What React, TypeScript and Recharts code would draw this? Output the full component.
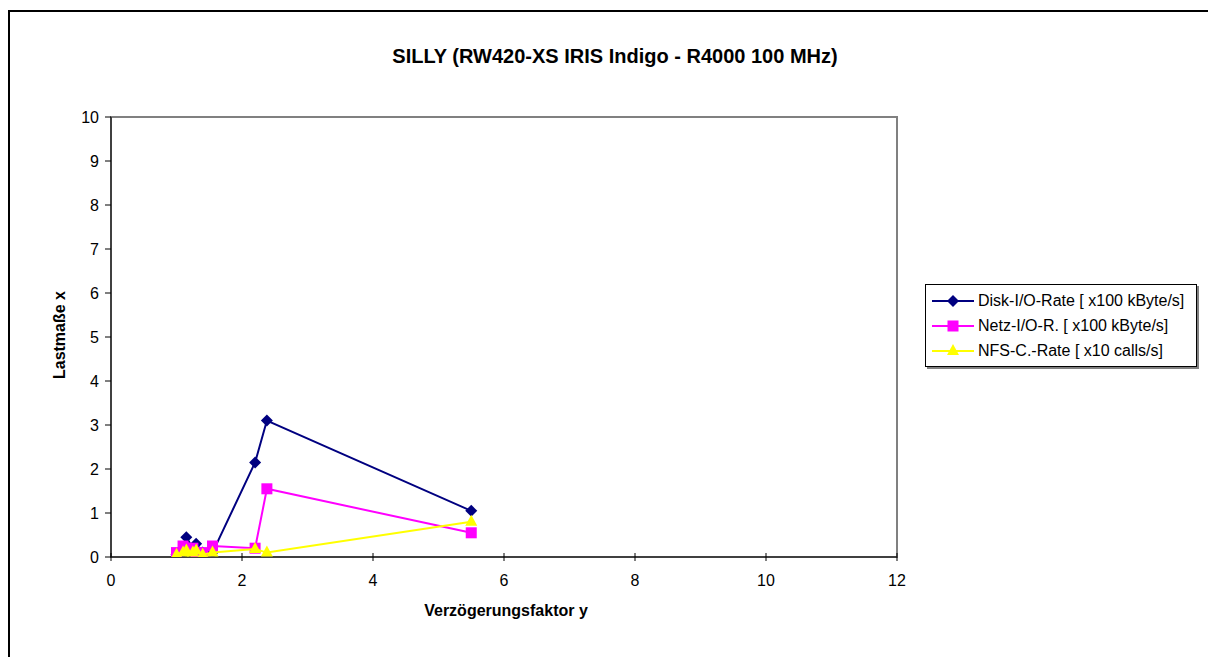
// XY scatter with joined markers: load measures vs. delay factor on SILLY.

import {
    ScatterChart, Scatter, XAxis, YAxis, ZAxis, ReferenceArea,
} from "recharts";

const delayFactor = [1.0, 1.1, 1.15, 1.25, 1.3, 1.4, 1.55, 2.2, 2.38, 5.5];
const diskRate = [0.05, 0.1, 0.45, 0.2, 0.3, 0.1, 0.1, 2.15, 3.1, 1.05];
const netRate = [0.1, 0.25, 0.2, 0.2, 0.1, 0.1, 0.25, 0.2, 1.55, 0.55];
const nfsRate = [0.05, 0.1, 0.15, 0.1, 0.15, 0.05, 0.1, 0.18, 0.1, 0.8];

const xTicks = [0, 2, 4, 6, 8, 10, 12];
const yTicks = [0, 1, 2, 3, 4, 5, 6, 7, 8, 9, 10];

const NAVY = "#000080";
const MAGENTA = "#FF00FF";
const YELLOW = "#FFFF00";
const FONT = "'Liberation Sans', Arial, sans-serif";

const toPoints = (ys: number[]) => delayFactor.map((x, i) => ({ x, y: ys[i] }));

const series = [
    { name: "Disk-I/O-Rate [ x100 kByte/s]", color: NAVY, shape: "diamond", data: toPoints(diskRate) },
    { name: "Netz-I/O-R. [ x100 kByte/s]", color: MAGENTA, shape: "square", data: toPoints(netRate) },
    { name: "NFS-C.-Rate [ x10 calls/s]", color: YELLOW, shape: "triangle", data: toPoints(nfsRate) },
];

function Marker({ cx, cy, kind, color }: { cx: number; cy: number; kind: string; color: string }) {
    if (kind === "diamond") {
        return <path d={`M${cx},${cy - 6}L${cx + 6},${cy}L${cx},${cy + 6}L${cx - 6},${cy}Z`} fill={color} />;
    }
    if (kind === "square") {
        return <rect x={cx - 5.5} y={cy - 5.5} width={11} height={11} fill={color} />;
    }
    return <path d={`M${cx},${cy - 7}L${cx + 6},${cy + 4}L${cx - 6},${cy + 4}Z`} fill={color} />;
}

// Excel-style tick that crosses the x axis, with the label below it
function XTick({ x, y, payload }: any) {
    return (
        <g>
            <line x1={x} y1={y - 12} x2={x} y2={y - 4} stroke="#000" />
            <text x={x} y={y + 21} textAnchor="middle" fontSize={16} fontFamily={FONT} fill="#000">
                {payload.value}
            </text>
        </g>
    );
}

function LegendBox() {
    return (
        <div style={{
            width: 272, height: 83, border: "1px solid #000", boxShadow: "2px 2px 0 #808080",
            background: "#fff", fontFamily: FONT, fontSize: 16, boxSizing: "border-box", paddingTop: 3,
        }}>
            {series.map((s) => (
                <div key={s.name} style={{ display: "flex", alignItems: "center", height: 25 }}>
                    <svg width={47} height={14} style={{ marginLeft: 5 }}>
                        <line x1={1} y1={7} x2={43} y2={7} stroke={s.color} strokeWidth={2} />
                        <Marker cx={22} cy={7} kind={s.shape} color={s.color} />
                    </svg>
                    <span style={{ whiteSpace: "nowrap" }}>{s.name}</span>
                </div>
            ))}
        </div>
    );
}

export default function App() {
    return (
        <div style={{ position: "relative", width: 1208, height: 649, overflow: "hidden", fontFamily: FONT }}>
            <div style={{
                position: "absolute", left: 0, top: 2, width: 1240, height: 700,
                borderTop: "2px solid #000", borderLeft: "2px solid #000",
            }} />
            <div style={{
                position: "absolute", left: 607, top: 37, transform: "translateX(-50%)",
                fontSize: 20, fontWeight: "bold", whiteSpace: "nowrap",
            }}>
                SILLY (RW420-XS IRIS Indigo - R4000 100 MHz)
            </div>
            <div style={{
                position: "absolute", left: 52, top: 327, transform: "translate(-50%, -50%) rotate(-90deg)",
                fontSize: 16, fontWeight: "bold", whiteSpace: "nowrap",
            }}>
                Lastmaße x
            </div>
            <div style={{
                position: "absolute", left: 498, top: 594, transform: "translateX(-50%)",
                fontSize: 16, fontWeight: "bold", whiteSpace: "nowrap",
            }}>
                Verzögerungsfaktor y
            </div>
            <div style={{ position: "absolute", left: 0, top: 0 }}>
                <ScatterChart width={1208} height={649} margin={{ top: 109, right: 319, bottom: 50, left: 43 }}>
                    <ReferenceArea x1={0} x2={12} y1={0} y2={10} fill="none" stroke="#808080" strokeWidth={2} />
                    <XAxis
                        type="number" dataKey="x" domain={[0, 12]} ticks={xTicks} height={50}
                        stroke="#000" tickSize={6} tickLine={false} allowDataOverflow
                        tick={<XTick />}
                    />
                    <YAxis
                        type="number" dataKey="y" domain={[0, 10]} ticks={yTicks} width={60}
                        stroke="#000" tickSize={6} tickMargin={6} allowDataOverflow
                        tick={{ fontSize: 16, fill: "#000", fontFamily: FONT }}
                    />
                    <ZAxis range={[100, 100]} />
                    {series.map((s) => (
                        <Scatter
                            key={s.name}
                            name={s.name}
                            data={s.data}
                            fill={s.color}
                            line={{ stroke: s.color, strokeWidth: 2 }}
                            lineType="joint"
                            isAnimationActive={false}
                            shape={(p: any) => <Marker cx={p.cx} cy={p.cy} kind={s.shape} color={s.color} />}
                        />
                    ))}
                </ScatterChart>
            </div>
            <div style={{ position: "absolute", left: 917, top: 276 }}>
                <LegendBox />
            </div>
        </div>
    );
}
